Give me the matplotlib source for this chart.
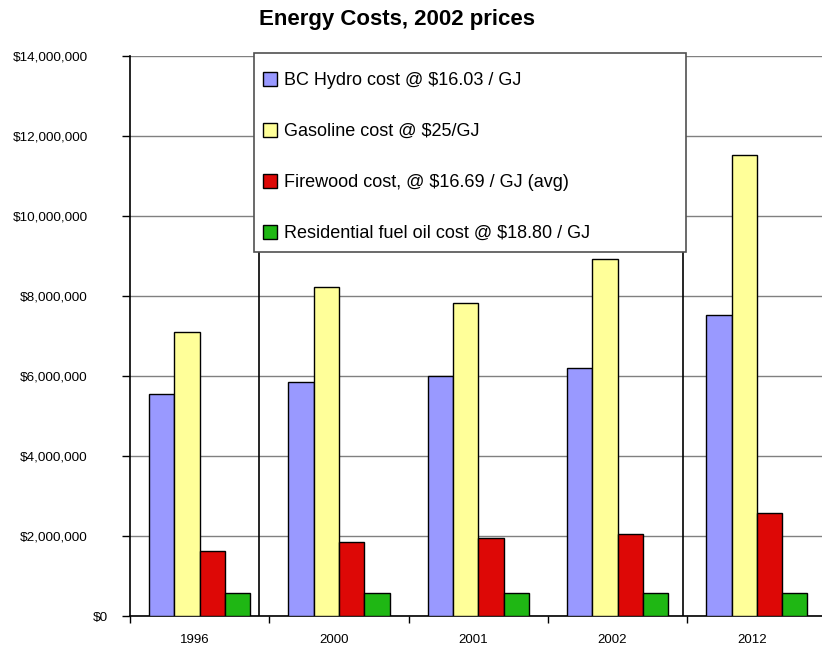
import matplotlib
matplotlib.use("Agg")
import matplotlib.pyplot as plt
import matplotlib.transforms as mtransforms
from matplotlib.patches import Rectangle
from matplotlib.ticker import FuncFormatter, FixedLocator
import numpy as np

plt.rcParams["font.family"] = ["Liberation Sans", "DejaVu Sans"]

years = ["1996", "2000", "2001", "2002", "2012"]
hydro = [5_550_000, 5_860_000, 6_010_000, 6_190_000, 7_525_000]
gasoline = [7_090_000, 8_230_000, 7_830_000, 8_920_000, 11_530_000]
firewood = [1_620_000, 1_840_000, 1_940_000, 2_040_000, 2_570_000]
fuel_oil = [570_000, 570_000, 570_000, 570_000, 570_000]

labels = [
    "BC Hydro cost @ $16.03 / GJ",
    "Gasoline cost @ $25/GJ",
    "Firewood cost, @ $16.69 / GJ (avg)",
    "Residential fuel oil cost @ $18.80 / GJ",
]
colors = ["#9999FF", "#FFFF99", "#DD0806", "#1FB714"]

fig = plt.figure(figsize=(8.22, 6.46), dpi=100)
W, H = 822, 646
# plot area runs a little past the right edge of the canvas
ax = fig.add_axes([130 / W, 30 / H, 696.5 / W, 560 / H])

x = np.arange(len(years))
bw = 0.1816
series = [hydro, gasoline, firewood, fuel_oil]
for i, (vals, col, lab) in enumerate(zip(series, colors, labels)):
    ax.bar(x + (i - 1.5) * bw, vals, width=bw, color=col, edgecolor="black",
           linewidth=1.0, label=lab, zorder=3)

ax.set_xlim(-0.5, len(years) - 0.5)
ax.set_ylim(0, 14_000_000)
ax.set_yticks(np.arange(0, 14_000_001, 2_000_000))
ax.yaxis.set_major_formatter(FuncFormatter(lambda v, p: f"${v:,.0f}"))
ax.yaxis.grid(True, color="#808080", linewidth=1.0, zorder=0)
ax.set_axisbelow(True)

# category boundaries get tick marks, labels sit at the centres
ax.xaxis.set_major_locator(FixedLocator(np.arange(-0.5, len(years), 1.0)))
ax.xaxis.set_major_formatter(FuncFormatter(lambda v, p: ""))
ax.xaxis.set_minor_locator(FixedLocator(x))
ax.set_xticklabels(years, minor=True)
ax.tick_params(axis="x", which="major", direction="out", length=5, width=1)
ax.tick_params(axis="x", which="minor", length=0, pad=12.9, labelsize=9.5)
ax.tick_params(axis="y", direction="out", length=6, width=1, labelsize=9.7, pad=24.5)
shift = mtransforms.ScaledTranslation(-5 / 100, 0, fig.dpi_scale_trans)
for lbl in ax.xaxis.get_minorticklabels():
    lbl.set_transform(lbl.get_transform() + shift)
fig.canvas.draw()
# the zero label sits closer to the axis than the others
zero_lbl = ax.yaxis.get_majorticklabels()[0]
zero_lbl.set_transform(zero_lbl.get_transform()
                       + mtransforms.ScaledTranslation(20 / 100, 0, fig.dpi_scale_trans))

for side in ("top", "right"):
    ax.spines[side].set_visible(False)
ax.spines["left"].set_linewidth(1.2)
ax.spines["bottom"].set_linewidth(1.2)

# divider lines behind the legend box
divider_x = [0.428, 3.472]
for dx in divider_x:
    ax.axvline(dx, color="black", linewidth=1.2, zorder=2)

# legend box drawn as its own patch so the entries can be placed freely inside it
fig.patches.append(Rectangle((254 / W, 1 - 252 / H), 432 / W, 199 / H,
                             transform=fig.transFigure, facecolor="white",
                             edgecolor="#505050", linewidth=1.2, zorder=1))
handles, _ = ax.get_legend_handles_labels()
leg = fig.legend(handles, labels, loc="upper left", bbox_to_anchor=(263 / W, 1 - 72 / H),
                 fontsize=13, frameon=False, borderpad=0, labelspacing=1.88,
                 handlelength=0.78, handleheight=0.78, handletextpad=0.4,
                 borderaxespad=0)
leg.set_zorder(2)

fig.text(397 / W, 1 - 20 / H, "Energy Costs, 2002 prices", ha="center", va="center",
         fontsize=16, fontweight="bold")

fig.savefig("out.png", dpi=100)
